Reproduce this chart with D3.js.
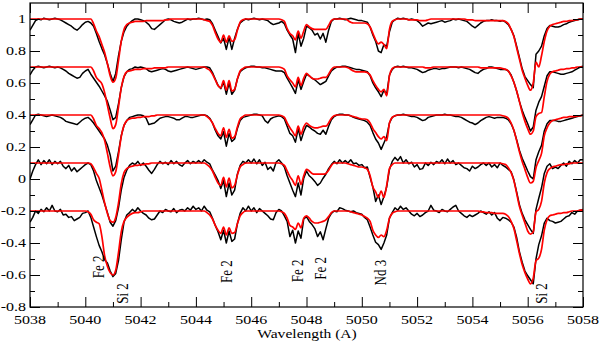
<!DOCTYPE html>
<html><head><meta charset="utf-8">
<script src="https://cdn.jsdelivr.net/npm/d3@7/dist/d3.min.js"></script>
<style>body{margin:0;background:#fff}svg{display:block}</style>
</head><body>
<svg id="chart" width="600" height="344"></svg>
<script>
// wavelength grid (Angstrom): 5038.0 ... 5058.0, step 0.1
const waveStart = 5038, waveStep = 0.1, waveCount = 201;
// vertical offsets of the five stacked spectra
const offsets = [0, -0.3, -0.6, -0.9, -1.2];

// observed spectra (normalised flux)
const obs1 = [
.93,.96,.99,1,.995,1.005,1,.995,1,1.005,
1,.995,.985,.975,.965,.955,.94,.93,.945,.965,
.98,.985,.975,.955,.91,.86,.815,.775,.72,.66,
.61,.66,.77,.86,.92,.955,.975,.99,1,1,
.995,.99,.98,.965,.94,.935,.95,.965,.98,.995,
1,.995,.985,.98,.975,.98,.99,1,.995,1,
1,1.005,1,.995,1,.995,.97,.93,.89,.85,
.88,.81,.885,.81,.88,.935,.975,.99,1,.995,
1,1.005,1,.995,1,.995,.99,.975,.965,.97,
.975,.985,.97,.93,.90,.875,.79,.91,.83,.88,
.955,.945,.93,.90,.91,.875,.91,.855,.93,.985,
1,1,1.005,1,.995,1,1.005,1,.995,.99,
.99,.985,.98,.95,.90,.86,.80,.79,.84,.83,
.92,.98,.995,1.005,1,1.005,1,.995,1,.995,
.99,.975,.955,.965,.975,.97,.975,.98,.985,.99,
.98,.985,.99,1,.995,1,.995,.99,.985,.97,
.955,.945,.96,.975,.985,.99,.99,.995,.99,.99,
.985,.99,.98,.965,.935,.895,.83,.76,.69,.64,
.615,.59,.57,.78,.80,.83,.895,.94,.96,.955,
.95,.95,.955,.965,.97,.98,.985,.99,.995,1,
1];
const obs2 = [
.95,.98,1,1.005,1,.995,1,1.005,1,.995,
1,.995,.985,.975,.96,.95,.94,.93,.935,.96,
.975,.985,.955,.93,.905,.88,.85,.82,.785,.73,
.67,.685,.77,.87,.94,.97,.985,.99,1,.995,
1,.995,.99,.975,.97,.975,.98,.985,.99,.985,
.975,.97,.975,.98,.985,.99,.995,1,.995,.99,
.985,.99,.995,1,1,.995,.965,.925,.885,.865,
.905,.83,.90,.83,.855,.925,.97,.985,.995,1,
1.005,1.005,1,1,.995,.995,.99,.985,.98,.975,
.975,.975,.965,.93,.90,.87,.835,.92,.86,.91,
.955,.945,.93,.92,.905,.89,.90,.91,.945,.975,
.99,1,1,1.005,1.005,1,.995,.99,.985,.985,
.98,.975,.97,.945,.90,.87,.845,.815,.855,.83,
.95,.985,1,1.005,1,1.005,1,.995,.995,.99,
.985,.975,.965,.97,.98,.985,.99,.99,.985,.99,
.99,.995,1,1,1,.995,1,.995,.99,.985,
.975,.965,.96,.975,.985,.99,1,1,.995,.99,
.985,.985,.985,.975,.95,.905,.85,.785,.73,.685,
.645,.60,.625,.73,.78,.815,.88,.945,.97,.97,
.965,.96,.955,.955,.96,.965,.97,.98,.99,1,
1.005];
const obs3 = [
.94,.97,1,1.005,1,.995,.99,.995,1,.995,
.99,.985,.975,.96,.955,.95,.945,.94,.955,.97,
.98,.985,.97,.95,.925,.90,.875,.85,.81,.75,
.65,.68,.77,.87,.935,.965,.985,.99,.995,1,
1,.995,.98,.94,.945,.95,.965,.98,.985,.99,
.99,.985,.98,.97,.97,.98,.99,.99,.985,.985,
.99,.995,1,1,.995,.98,.95,.905,.87,.85,
.895,.805,.885,.835,.85,.915,.965,.985,.99,.995,
1,1.005,1.005,1,.995,.965,.95,.975,.985,.99,
.995,.99,.975,.93,.885,.87,.83,.915,.84,.895,
.935,.925,.91,.90,.885,.88,.905,.88,.93,.97,
.99,1,1.005,1.005,1,1,.995,.985,.98,.975,
.97,.965,.955,.935,.89,.85,.825,.785,.825,.865,
.95,.985,.995,1,1,1.005,1,.995,.99,.99,
.985,.975,.965,.97,.985,.99,.995,1,1,1,
1.005,1,1,.995,.99,.99,.985,.975,.965,.955,
.95,.94,.95,.965,.975,.985,.99,.985,.98,.985,
.985,.985,.98,.97,.945,.905,.845,.78,.73,.69,
.65,.615,.60,.72,.77,.81,.90,.945,.965,.965,
.965,.96,.96,.965,.97,.975,.98,.985,.99,.995,
1];
const obs4 = [
.90,.95,.99,1.02,.99,1.015,.995,1.02,.99,1.01,
.995,1.01,.98,.965,.985,.95,.97,.945,.96,.975,
.99,1.0,.99,.95,.89,.845,.80,.745,.69,.63,
.605,.64,.72,.83,.91,.955,.985,1.0,.99,1.01,
.985,1.0,.98,.955,.935,.96,.99,1.01,.995,1.005,
.99,1.015,.995,1.01,.99,.98,1.0,1.015,.995,1.01,
1.0,1.015,1.0,1.02,1.005,.995,.955,.925,.89,.84,
.89,.79,.875,.80,.83,.93,.985,1.01,1.0,1.02,
1.0,1.025,.995,1.02,.985,1.005,.96,.975,.95,1.005,
1.02,1.0,.975,.92,.875,.83,.79,.875,.80,.905,
.95,.92,.905,.885,.86,.875,.905,.93,.965,.99,
1.01,.995,1.02,1.0,1.015,1.0,1.02,.995,1.0,.985,
.99,.97,.975,.91,.85,.76,.80,.74,.79,.85,
.96,1.01,1.035,1.015,1.04,1.0,1.02,.995,1.005,.975,
.99,.96,.965,1.0,.985,1.005,.99,1.01,1.0,1.02,
.995,1.025,1.0,1.015,.99,1.0,.985,.97,.965,.95,
.98,.965,.975,.99,1.0,.985,1.0,.975,.99,.97,
1.0,.985,.975,.96,.945,.895,.82,.74,.685,.645,
.615,.585,.56,.71,.78,.845,.935,.98,.995,.965,
.975,.965,.985,1.0,.98,1.01,.995,1.015,1.0,1.02,
1.02];
const obs5 = [
.93,.96,1.0,.985,1.01,.995,1.02,1.0,1.035,1.0,
.995,1.01,.975,.98,.96,.965,.94,.95,.96,.985,
.99,1.0,.96,.90,.84,.785,.745,.695,.675,.625,
.59,.61,.69,.82,.93,.975,.99,1.01,.995,1.02,
1.0,.985,.975,.955,.945,.95,.975,1.0,.99,1.01,
1.0,.995,1.015,.99,1.005,1.01,1.0,1.02,1.005,1.03,
1.01,1.02,1.0,1.03,1.005,.995,.955,.91,.87,.82,
.88,.80,.875,.81,.825,.92,.985,1.02,1.0,1.03,
1.0,1.02,.99,1.015,1.0,.985,.97,.95,.945,.99,
1.01,1.0,.97,.935,.84,.88,.80,.875,.83,.95,
.965,.935,.915,.89,.84,.87,.82,.89,.955,.985,
1.0,.995,1.02,1.015,1.005,1.0,.995,1.0,.99,.985,
.98,.96,.945,.90,.85,.805,.79,.76,.80,.85,
.955,.99,1.02,1.005,1.03,1.01,1.02,1.0,.98,.97,
.985,.965,.975,.99,1.0,1.035,1.005,1.0,.99,1.01,
1.0,.995,1.01,1.025,1.035,1.0,.985,.97,.96,.975,
.965,.975,.985,1.0,.99,.98,.995,.975,.99,.955,
.94,.96,.955,.945,.93,.90,.835,.745,.68,.625,
.595,.57,.545,.70,.79,.845,.925,.955,.94,.935,
.925,.93,.935,.95,.965,.97,.99,.98,1.0,1.005,
1.01];

// synthetic (model) spectra
const mod1 = [
1,1,1,1,1,1,1,1,1,1,
1,1,1,1,1,1,1,1,1,1,
1,1,1,.97,.925,.89,.84,.79,.72,.645,
.605,.63,.74,.86,.935,.965,.975,.98,.985,.985,
.985,.985,.99,.99,.99,.99,.99,.99,.99,.995,
.995,1,1,1,1,1,1,1,1,1,
1,1,1,.995,.99,.985,.96,.915,.875,.855,
.90,.855,.895,.86,.87,.93,.98,.995,1,1,
1,1,1,1,1,1,1,1,1,1,
1,.995,.985,.94,.91,.895,.87,.925,.88,.925,
.965,.95,.94,.935,.935,.935,.935,.935,.96,.99,
1,1,1,1,1,.99,.98,.975,.975,.975,
.975,.975,.97,.95,.91,.87,.845,.855,.84,.815,
.935,.985,.995,1,1,1,1,.995,.995,.995,
.995,.99,.99,.99,.995,1,1,1,1,1,
1,1,1,1,1,1,1,1,.995,.995,
.995,.99,.99,.99,.99,.99,.99,.99,.99,.99,
.99,.99,.985,.97,.935,.89,.82,.75,.68,.63,
.585,.555,.60,.73,.70,.77,.86,.925,.955,.965,
.97,.975,.98,.985,.985,.99,.99,.995,.995,1,
1];
const mod2 = [
1,1,1,1,1,1,1,1,1,1,
1,1,1,1,1,1,1,1,1,1,
1,1,1,.975,.935,.915,.895,.84,.76,.68,
.615,.64,.75,.87,.94,.97,.975,.98,.985,.985,
.985,.99,.99,.99,.99,.995,.995,.995,.995,.995,
1,1,1,1,1,1,1,1,1,1,
1,1,1,1,.99,.98,.955,.92,.885,.87,
.915,.855,.915,.85,.86,.925,.975,.99,1,1,
1,1,1,1,1,1,1,1,1,1,
1,.995,.985,.945,.92,.90,.875,.935,.885,.93,
.96,.945,.93,.925,.925,.93,.935,.935,.955,.985,
1,1,1,1,1,.995,.985,.975,.97,.97,
.97,.97,.965,.95,.915,.885,.86,.845,.86,.82,
.945,.99,1,1,1,1,1,1,1,1,
1,1,1,.995,.995,.995,1,1,1,1,
1,1,1,1,1,1,1,1,1,1,
1,1,1,.995,.995,.995,.995,.995,.995,.995,
.995,.99,.985,.975,.945,.905,.85,.785,.715,.66,
.615,.58,.60,.69,.71,.715,.815,.91,.955,.97,
.975,.98,.985,.985,.99,.99,.995,.995,1,1,
1];
const mod3 = [
1,1,1,1,1,1,1,1,1,1,
1,1,1,1,1,1,1,1,1,1,
1,1,1,.975,.935,.915,.89,.84,.76,.675,
.62,.645,.75,.865,.935,.965,.975,.98,.98,.985,
.985,.99,.99,.99,.995,.995,1,1,1,1,
1,1,1,1,1,1,1,1,1,1,
1,1,1,1,.99,.975,.95,.915,.885,.87,
.92,.86,.91,.855,.865,.925,.975,.99,1,1,
1,1,1,1,1,1,1,1,1,1,
1,.995,.985,.95,.92,.895,.87,.93,.88,.925,
.95,.935,.925,.92,.92,.925,.93,.93,.95,.98,
.995,1,1,1,1,1,.995,.99,.985,.98,
.975,.975,.97,.95,.915,.89,.865,.85,.865,.84,
.95,.985,.995,1,1,1,1,1,1,1,
1,1,1,1,1,1,1,1,1,1,
1,1,1,1,1,1,1,1,1,1,
1,1,1,1,1,1,1,1,1,1,
1,.995,.99,.98,.95,.905,.84,.77,.71,.66,
.61,.575,.585,.67,.715,.76,.87,.92,.95,.965,
.97,.975,.98,.985,.985,.99,.99,.99,.995,.995,
1];
const mod4 = [
1,1,1,1,1,1,1,1,1,1,
1,1,1,1,1,1,1,1,1,1,
1,1,.995,.97,.935,.905,.83,.75,.685,.64,
.63,.66,.75,.87,.94,.965,.975,.98,.985,.985,
.99,.99,.995,.995,1,1,1,1,1,1,
1,1,1,1,1,1,1,1,1,1,
1,1,1,1,.99,.975,.95,.91,.875,.86,
.91,.85,.905,.845,.86,.925,.975,.99,1,1,
1,1,1,1,1,1,1,1,1,1,
1,.995,.985,.95,.915,.89,.86,.92,.865,.92,
.96,.95,.935,.93,.93,.93,.93,.935,.955,.985,
1,1,1,1,1,.995,.99,.985,.98,.975,
.975,.97,.96,.92,.85,.82,.785,.825,.785,.86,
.965,.99,1,1,1,1,1,1,1,1,
1,1,1,1,1,1,1,1,1,1,
1,1,1,1,1,1,1,1,1,1,
1,1,1,1,1,1,1,1,1,1,
1,.995,.99,.97,.94,.89,.81,.73,.675,.625,
.575,.555,.57,.695,.71,.76,.875,.94,.965,.975,
.98,.985,.99,.99,.995,.995,1,1,1,1,
1];
const mod5 = [
1,1,1,1,1,1,1,1,1,1,
1,1,1,1,1,1,1,1,1,1,
1,.995,.98,.945,.93,.92,.84,.72,.655,.615,
.60,.63,.74,.87,.935,.96,.975,.985,.99,.99,
.995,1,1,1,1,1,1,1,1,1,
1,1,1,1,1,1,1,1,1,1,
1,1,1,1,.99,.975,.95,.91,.88,.86,
.90,.85,.895,.86,.865,.92,.97,.99,1,1,
1,1,1,1,1,1,1,1,1,1,
1,.995,.985,.955,.91,.90,.885,.925,.895,.955,
.97,.955,.935,.925,.925,.93,.935,.945,.965,.99,
1,1,1,1,1,1,.995,.99,.985,.98,
.975,.965,.955,.935,.88,.85,.835,.85,.84,.88,
.955,.985,.995,1,1,1,1,1,1,1,
1,1,1,1,1,1,1,1,1,1,
1,1,1,1,1,1,1,1,1,1,
1,1,1,.995,.995,.99,.99,.99,.985,.985,
.985,.985,.98,.965,.935,.89,.815,.735,.665,.615,
.575,.545,.58,.69,.705,.76,.88,.945,.97,.975,
.98,.985,.985,.99,.99,.995,1,1,1,1.005,
1.005];

const observed = [obs1, obs2, obs3, obs4, obs5];
const models = [mod1, mod2, mod3, mod4, mod5];

const xMajorTicks = [5038,5040,5042,5044,5046,5048,5050,5052,5054,5056,5058];
const xMinorTicks = [5039,5041,5043,5045,5047,5049,5051,5053,5055,5057];
const yMajorTicks = [-0.8,-0.6,-0.4,-0.2,0,0.2,0.4,0.6,0.8,1];
const yMinorTicks = [-0.7,-0.5,-0.3,-0.1,0.1,0.3,0.5,0.7,0.9];
const lineNames = ["Fe 2","Si 2","Fe 2","Fe 2","Fe 2","Nd 3","Si 2"];
const lineWaves = [5040.46,5041.33,5045.11,5047.66,5048.52,5050.68,5056.5];
const xTitle = "Wavelength (A)";

// ---------- drawing ----------
const m = {l:30, r:583, t:3, b:307};
const wave = d3.range(waveCount).map(i => +(waveStart + i*waveStep).toFixed(1));
const x = d3.scaleLinear().domain([5038,5058]).range([m.l, m.r]);
const y = d3.scaleLinear().domain([-0.8,1.1]).range([m.b, m.t]);
const svg = d3.select("#chart");
const FONT = "'Liberation Serif','Times New Roman',serif";
const SX = 1.28; // horizontal stretch of glyphs in the reference

svg.append("defs").append("clipPath").attr("id","plotclip")
  .append("rect").attr("x",m.l).attr("y",m.t).attr("width",m.r-m.l).attr("height",m.b-m.t);

const plot = svg.append("g").attr("clip-path","url(#plotclip)");
const mkLine = (off, curve) => d3.line()
  .x((d,i) => x(wave[i])).y(d => y(d + off)).curve(curve);

observed.forEach((s,k) => {
  plot.append("path").datum(s)
    .attr("d", mkLine(offsets[k], d3.curveLinear))
    .attr("fill","none").attr("stroke","#000").attr("stroke-width",1.5)
    .attr("stroke-linejoin","round");
});
models.forEach((s,k) => {
  plot.append("path").datum(s)
    .attr("d", mkLine(offsets[k], d3.curveMonotoneX))
    .attr("fill","none").attr("stroke","#ff0000").attr("stroke-width",1.7);
});

// axes (ticks point inward)
function axisG(axis, tx, ty){
  const g = svg.append("g").attr("transform",`translate(${tx},${ty})`).call(axis);
  g.select(".domain").remove();
  g.selectAll("line").attr("stroke","#000").attr("stroke-width",1);
  g.selectAll("text").remove();
  return g;
}
const MAJ = 10, MIN = 5;
axisG(d3.axisBottom(x).tickValues(xMajorTicks).tickSize(-MAJ), 0, m.b);
axisG(d3.axisBottom(x).tickValues(xMinorTicks).tickSize(-MIN), 0, m.b);
axisG(d3.axisTop(x).tickValues(xMajorTicks).tickSize(-MAJ), 0, m.t);
axisG(d3.axisTop(x).tickValues(xMinorTicks).tickSize(-MIN), 0, m.t);
axisG(d3.axisLeft(y).tickValues(yMajorTicks).tickSize(-MAJ), m.l, 0);
axisG(d3.axisLeft(y).tickValues(yMinorTicks).tickSize(-MIN), m.l, 0);
axisG(d3.axisRight(y).tickValues(yMajorTicks).tickSize(-MAJ), m.r, 0);
axisG(d3.axisRight(y).tickValues(yMinorTicks).tickSize(-MIN), m.r, 0);

svg.append("rect").attr("x",m.l).attr("y",m.t).attr("width",m.r-m.l).attr("height",m.b-m.t)
  .attr("fill","none").attr("stroke","#000").attr("stroke-width",1.2);

// tick labels
const fmtY = v => String(+v.toFixed(1)).replace("\u2212","-");
xMajorTicks.forEach(v => {
  svg.append("text").attr("transform",`translate(${x(v)},${m.b+17}) scale(${SX},1)`)
    .attr("text-anchor","middle").attr("font-family",FONT).attr("font-size",12.5)
    .attr("fill","#000").text(v);
});
yMajorTicks.forEach(v => {
  svg.append("text").attr("transform",`translate(${m.l-4},${y(v)+4.3}) scale(${SX},1)`)
    .attr("text-anchor","end").attr("font-family",FONT).attr("font-size",12.5)
    .attr("fill","#000").text(fmtY(v));
});
svg.append("text").attr("transform",`translate(${(m.l+m.r)/2+0.5},${338}) scale(1.3,1)`)
  .attr("text-anchor","middle").attr("font-family",FONT).attr("font-size",12)
  .attr("fill","#000").text(xTitle);

// line identifications (rotated)
const labelBottom = [-0.62,-0.78,-0.65,-0.645,-0.63,-0.665,-0.78];
lineNames.forEach((n,i) => {
  svg.append("text")
    .attr("transform",`translate(${x(lineWaves[i])+5.5},${y(labelBottom[i])}) scale(${SX},1) rotate(-90)`)
    .attr("font-family",FONT).attr("font-size",13).attr("fill","#000").text(n);
});
</script>
</body></html>
